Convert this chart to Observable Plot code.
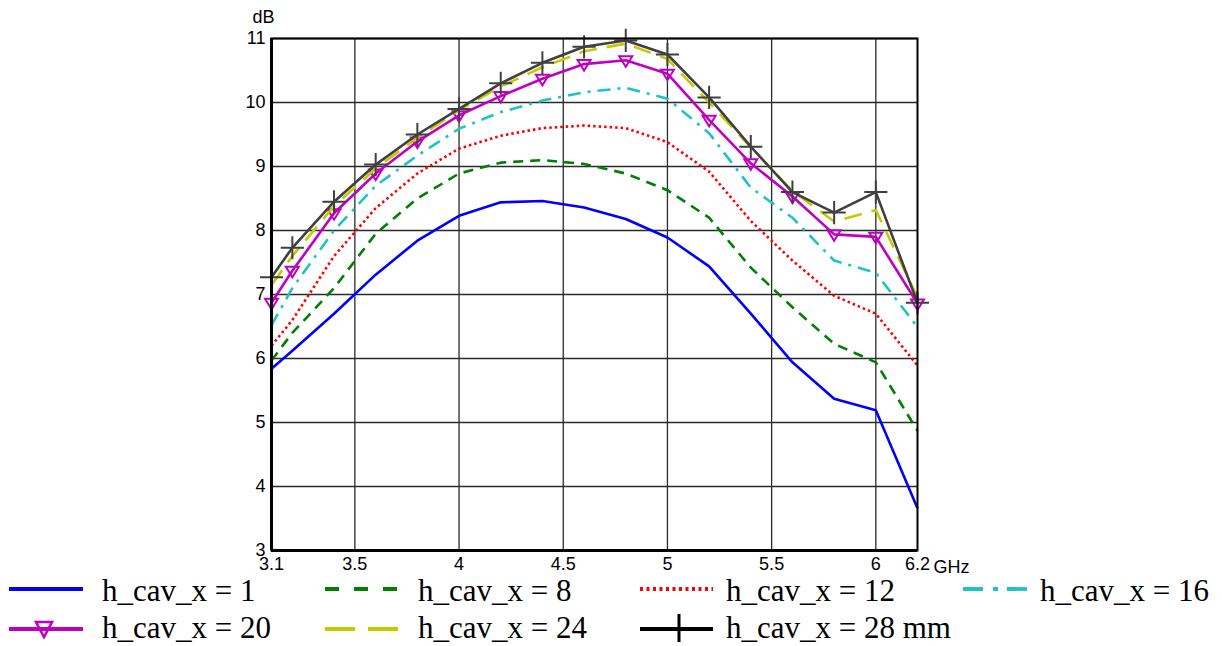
<!DOCTYPE html>
<html><head><meta charset="utf-8">
<script src="https://cdn.jsdelivr.net/npm/d3@7"></script>
<script src="https://cdn.jsdelivr.net/npm/@observablehq/plot@0.6"></script>
<style>
body{margin:0;background:#fff;}
#wrap{position:relative;width:1222px;height:646px;overflow:hidden;}
.item{position:absolute;height:40px;}
.item span{font-family:"Liberation Serif","Times New Roman",serif;font-size:31px;line-height:31px;color:#000;white-space:nowrap;position:absolute;}
.item svg{overflow:visible;position:absolute;left:0;top:0;}
</style></head>
<body><div id="wrap"></div>
<script>
const freq = [3.1, 3.2, 3.4, 3.6, 3.8, 4.0, 4.2, 4.4, 4.6, 4.8, 5.0, 5.2, 5.4, 5.6, 5.8, 6.0, 6.2];
const h1  = [5.84, 6.12, 6.70, 7.31, 7.84, 8.23, 8.44, 8.46, 8.36, 8.18, 7.89, 7.44, 6.70, 5.94, 5.37, 5.19, 3.66];
const h8  = [5.97, 6.40, 7.10, 7.95, 8.50, 8.89, 9.06, 9.10, 9.04, 8.89, 8.63, 8.20, 7.42, 6.80, 6.23, 5.94, 4.87];
const h12 = [6.20, 6.60, 7.60, 8.35, 8.89, 9.28, 9.48, 9.60, 9.64, 9.60, 9.38, 8.92, 8.15, 7.53, 6.98, 6.70, 5.89];
const h16 = [6.52, 7.10, 8.00, 8.70, 9.17, 9.59, 9.85, 10.03, 10.16, 10.23, 10.06, 9.52, 8.67, 8.20, 7.53, 7.34, 6.49];
const h20 = [6.87, 7.37, 8.27, 8.89, 9.39, 9.80, 10.10, 10.37, 10.60, 10.66, 10.45, 9.73, 9.05, 8.53, 7.94, 7.90, 6.86];
const h24 = [7.15, 7.60, 8.38, 8.97, 9.45, 9.88, 10.25, 10.55, 10.80, 10.92, 10.68, 10.00, 9.30, 8.62, 8.14, 8.32, 6.95];
const h28 = [7.27, 7.73, 8.45, 9.03, 9.50, 9.90, 10.30, 10.62, 10.87, 10.97, 10.75, 10.08, 9.31, 8.60, 8.28, 8.60, 6.87];

const seriesNames = ["h_cav_x = 1", "h_cav_x = 8", "h_cav_x = 12", "h_cav_x = 16", "h_cav_x = 20", "h_cav_x = 24", "h_cav_x = 28 mm"];
const seriesValues = [h1, h8, h12, h16, h20, h24, h28];
const xTicks = [3.1, 3.5, 4, 4.5, 5, 5.5, 6, 6.2];
const xGrid = [3.5, 4, 4.5, 5, 5.5, 6];
const yTicks = [3, 4, 5, 6, 7, 8, 9, 10, 11];
const xUnit = ["GHz"];
const yUnit = ["dB"];

const styles = [
  {stroke:"#0000ff", dash:null, legendDash:null, width:2.6},
  {stroke:"#008000", dash:"10,7", legendDash:"14,15", width:2.6},
  {stroke:"#ff0000", dash:"2.5,3", legendDash:"3,3.5", width:2.6},
  {stroke:"#1ec4c4", dash:"13,7,3,7", legendDash:"20,10,5,9", width:2.6},
  {stroke:"#c000c0", dash:null, legendDash:null, width:2.6, marker:"tri"},
  {stroke:"#c8c800", dash:"18,10", legendDash:"30,13", width:2.6},
  {stroke:"#404040", dash:null, legendDash:null, width:2.6, marker:"plus"}
];

const triDown = {
  draw(context, size) {
    const k = Math.sqrt(size / Math.PI);
    context.moveTo(-k, -0.62 * k);
    context.lineTo(k, -0.62 * k);
    context.lineTo(0, k);
    context.closePath();
  }
};

const rows = [];
seriesValues.forEach((vals, si) => vals.forEach((v, i) => rows.push({series: si, f: freq[i], v})));

const lineMarks = [];
seriesValues.forEach((vals, si) => {
  const st = styles[si];
  const data = rows.filter(r => r.series === si);
  lineMarks.push(Plot.line(data, {x:"f", y:"v", stroke:st.stroke, strokeWidth:st.width, strokeDasharray:st.dash, strokeLinejoin:"round", strokeLinecap:"butt"}));
  if (st.marker === "tri") lineMarks.push(Plot.dot(data, {x:"f", y:"v", symbol:triDown, r:6.5, stroke:st.stroke, strokeWidth:2, fill:"none"}));
  if (st.marker === "plus") lineMarks.push(Plot.dot(data, {x:"f", y:"v", symbol:"plus", r:7.5, stroke:st.stroke, strokeWidth:2}));
});

const chart = Plot.plot({
  width: 1222, height: 578,
  marginLeft: 271, marginRight: 305, marginTop: 38, marginBottom: 28,
  x: {domain:[3.1, 6.2], label:null},
  y: {domain:[3, 11], label:null},
  style: {fontFamily:"'Liberation Sans', Arial, sans-serif", fontSize:"18px", background:"white", color:"black", overflow:"visible"},
  marks: [
    Plot.gridX(xGrid, {stroke:"#2a2a2a", strokeOpacity:1, strokeWidth:1.3}),
    Plot.gridY(yTicks, {stroke:"#2a2a2a", strokeOpacity:1, strokeWidth:1.3}),
    ...lineMarks,
    Plot.frame({stroke:"black", strokeWidth:2}),
    Plot.ruleX([3.1], {stroke:"black", strokeWidth:3}),
    Plot.ruleY([3], {stroke:"black", strokeWidth:3}),
    Plot.axisX(xTicks, {tickSize:0, tickPadding:7, fontSize:18, tickFormat: d => String(d)}),
    Plot.axisY(yTicks, {tickSize:0, tickPadding:6, fontSize:18, tickFormat: d => String(d)}),
    Plot.text(xUnit, {x: () => 6.2, y: () => 3, text: d => d, dx:16, dy:17, textAnchor:"start", fontSize:18}),
    Plot.text(yUnit, {x: () => 3.1, y: () => 11, text: d => d, dx:-8, dy:-21, textAnchor:"middle", fontSize:18})
  ]
});

const wrap = document.getElementById("wrap");
wrap.appendChild(chart);

// legend
const colX = [9, 325, 640, 963];
const swW = [74, 73, 73, 64];
const textX = [102, 418, 726, 1040];
const rowY = [569, 606];
seriesNames.forEach((name, si) => {
  const col = si < 4 ? si : si - 4;
  const row = si < 4 ? 0 : 1;
  const st = styles[si];
  const div = document.createElement("div");
  div.className = "item";
  div.style.left = colX[col] + "px";
  div.style.top = rowY[row] + "px";
  div.style.width = (textX[col] - colX[col] + 200) + "px";
  const ns = "http://www.w3.org/2000/svg";
  const svg = document.createElementNS(ns, "svg");
  const w = swW[col];
  svg.setAttribute("width", w); svg.setAttribute("height", 40);
  const ln = document.createElementNS(ns, "line");
  const ly = row === 0 ? 20 : 23;
  ln.setAttribute("x1", 0); ln.setAttribute("x2", w); ln.setAttribute("y1", ly); ln.setAttribute("y2", ly);
  ln.setAttribute("stroke", st.stroke); ln.setAttribute("stroke-width", 3.8);
  if (st.legendDash) ln.setAttribute("stroke-dasharray", st.legendDash);
  svg.appendChild(ln);
  if (st.marker === "tri") {
    const p = document.createElementNS(ns, "path");
    p.setAttribute("d", `M27,${ly - 7}L43,${ly - 7}L35,${ly + 8}Z`);
    p.setAttribute("stroke", st.stroke); p.setAttribute("stroke-width", 2.6); p.setAttribute("fill", "none");
    svg.appendChild(p);
  }
  if (st.marker === "plus") {
    ln.setAttribute("stroke", "#000");
    const p = document.createElementNS(ns, "path");
    p.setAttribute("d", `M39,${ly - 15}L39,${ly + 13}`);
    p.setAttribute("stroke", "#000"); p.setAttribute("stroke-width", 3);
    svg.appendChild(p);
  }
  div.appendChild(svg);
  const sp = document.createElement("span");
  sp.style.left = (textX[col] - colX[col]) + "px";
  sp.style.top = "6px";
  sp.textContent = name;
  div.appendChild(sp);
  wrap.appendChild(div);
});
</script>
</body></html>
